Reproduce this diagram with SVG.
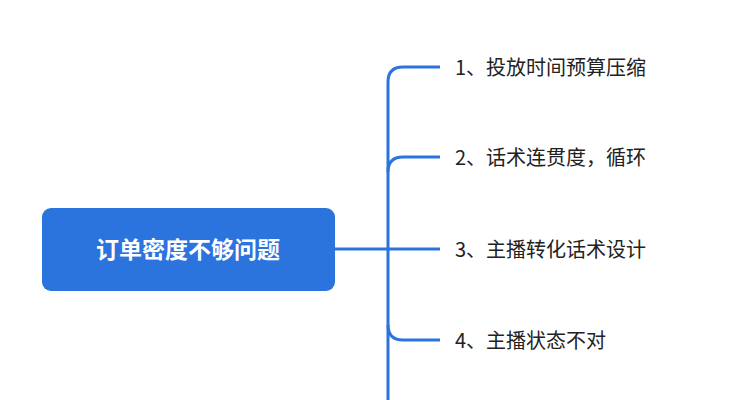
<svg xmlns="http://www.w3.org/2000/svg" width="745" height="400" viewBox="0 0 745 400">
<style>
.c{fill:none;stroke:#2b73dd;stroke-width:3}
.t{font-family:"Noto Sans CJK SC","Noto Sans",sans-serif;font-size:20px;fill:#222}
.r{font-family:"Noto Sans CJK SC","Noto Sans",sans-serif;font-size:23px;font-weight:bold;fill:#fff}
</style>
<rect width="745" height="400" fill="#fff"/>
<g id="connectors">
<path class="c" d="M335 249H440"/>
<path class="c" d="M440 67H403Q388 67 388 82V400"/>
<path class="c" d="M440 157H403Q388 157 388 172"/>
<path class="c" d="M440 340H403Q388 340 388 325"/>
</g>
<g id="root"><rect x="42" y="208" width="293" height="83" rx="9" fill="#2b73dd"/><text class="r" x="188" y="258" text-anchor="middle">订单密度不够问题</text></g>
<g id="n1"><text class="t" x="455" y="75">1、投放时间预算压缩</text></g>
<g id="n2"><text class="t" x="455" y="165">2、话术连贯度，循环</text></g>
<g id="n3"><text class="t" x="455" y="257">3、主播转化话术设计</text></g>
<g id="n4"><text class="t" x="455" y="348">4、主播状态不对</text></g>
</svg>
